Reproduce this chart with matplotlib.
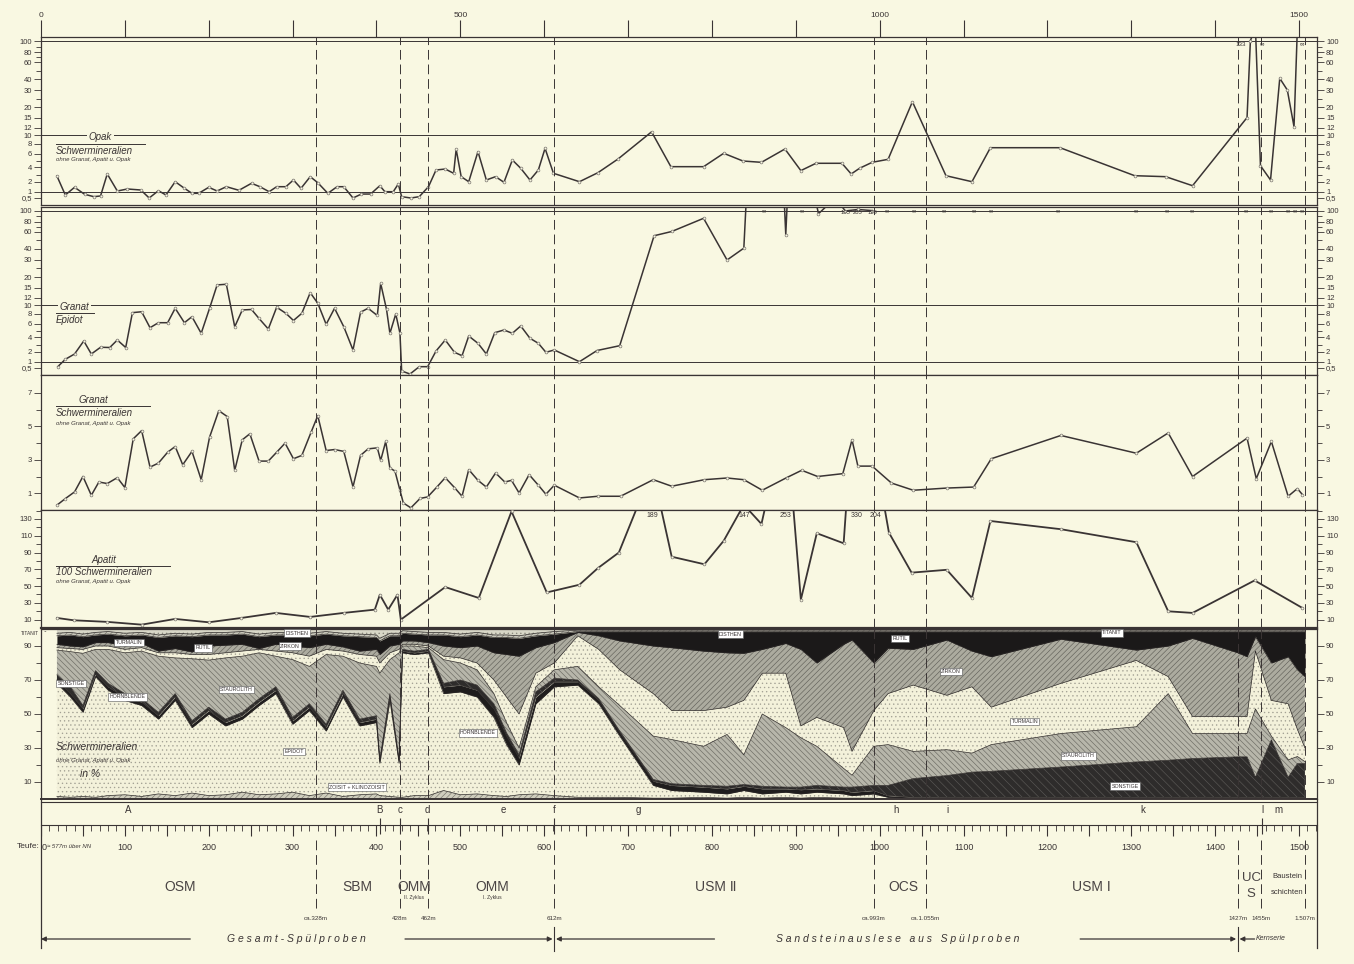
# -*- coding: utf-8 -*-
import numpy as np
import matplotlib
matplotlib.use('Agg')
import matplotlib.pyplot as plt
from matplotlib.transforms import blended_transform_factory

W, H = 1354, 964
BG = '#f9f8e2'
INK = '#3a3434'
INF = 1000.0          # unendlich / ausserhalb der Skala

plt.rcParams['font.family'] = ['Liberation Sans', 'DejaVu Sans']
plt.rcParams['hatch.linewidth'] = 0.45

PX_PER_M = 0.8387
X_MAX = (1317 - 41) / PX_PER_M

# ---------------- Daten ----------------
grenzen = [328, 428, 462, 612, 993, 1055, 1427, 1455, 1507]
grenzen_txt = ['ca.328m', '428m', '462m', '612m', 'ca.993m', 'ca.1.055m', '1427m', '1455m', '1.507m']

top_ticks = list(range(0, 1501, 100))
top_labels = ['0', '', '', '', '', '500', '', '', '', '', '1000', '', '', '', '', '1500']

# Opak / Schwermineralien
opak_m = [19, 29, 40, 52, 63, 71, 79, 91, 103, 119,
          129, 140, 149, 160, 171, 180, 188, 200, 210, 221,
          236, 251, 261, 272, 281, 292, 301, 310, 321, 330,
          342, 353, 361, 372, 382, 393, 404, 410, 420, 426,
          430, 441, 451, 462, 471, 482, 492, 495, 501, 510,
          521, 531, 542, 552, 562, 572, 583, 593, 601, 611,
          642, 664, 688, 728, 751, 790, 814, 837, 859, 887,
          906, 924, 955, 966, 976, 991, 1010, 1039, 1079, 1110,
          1132, 1215, 1304, 1341, 1373, 1438, 1442, 1448, 1454, 1466,
          1477, 1486, 1494, 1498]
opak = [2.8, 0.75, 1.47, 0.81, 0.61, 0.67, 3.07, 1.1, 1.3, 1.2,
        0.5, 1.13, 0.75, 2.04, 1.37, 0.89, 0.89, 1.47, 1.1, 1.53,
        1.17, 1.87, 1.53, 1.03, 1.53, 1.53, 2.27, 1.37, 2.71, 1.93,
        0.89, 1.53, 1.53, 0.5, 0.83, 0.83, 1.63, 1.03, 1.03, 1.8,
        0.61, 0.5, 0.61, 1.53, 3.6, 3.73, 3.16, 6.94, 2.71, 2.04,
        6.47, 2.27, 2.71, 1.97, 5.08, 3.83, 2.27, 3.6, 7.13, 3.16,
        2.04, 3.24, 5.23, 10.9, 4.05, 4.05, 6.14, 4.92, 4.72, 7.0,
        3.52, 4.57, 4.57, 3.07, 3.83, 4.72, 5.18, 23.1, 2.84, 2.04,
        7.26, 7.26, 2.84, 2.71, 1.63, 15.2, 133, INF, 4.2, 2.27,
        40.8, 30, 12.4, INF]
opak_notes = [('133', 1431), ('∞', 1456), ('∞', 1504)]

# Granat / Epidot
gep_m = [20, 29, 40, 51, 60, 71, 82, 91, 101, 109,
         120, 130, 140, 151, 160, 171, 180, 191, 201, 210,
         221, 231, 240, 251, 260, 271, 281, 292, 301, 311,
         321, 330, 340, 350, 361, 372, 381, 390, 401, 405,
         412, 416, 423, 428, 430, 440, 451, 461, 471, 482,
         493, 502, 510, 521, 531, 541, 552, 562, 572, 583,
         593, 602, 612, 642, 663, 690, 731, 752, 790, 818,
         838, 841, 886, 888, 890, 923, 927, 947, 959, 974,
         991]
gep = [0.61, 1.27, 1.8, 3.47, 1.8, 2.63, 2.6, 3.6, 2.6, 8.3,
       8.5, 5.43, 6.26, 6.26, 9.27, 6.26, 7.46, 4.57, 9.27, 16.4,
       16.7, 5.58, 8.9, 9.0, 7.1, 5.23, 9.5, 8.15, 6.7, 8.15,
       13.6, 10.5, 5.95, 9.27, 5.58, 2.27, 8.4, 9.27, 7.7, 17.1,
       9.0, 4.57, 8.0, 4.57, 0.4, 0.3, 0.61, 0.61, 2.13, 3.6,
       1.97, 1.63, 4.15, 3.16, 1.8, 4.66, 5.08, 4.57, 5.7, 3.83,
       3.16, 1.97, 2.27, 1.03, 2.2, 2.84, 55.6, 61, 86.7, 30,
       41, INF, INF, 57, INF, INF, 95, INF, 105, 205,
       129]
gep_inf_m = [862, 907, 1008, 1041, 1077, 1112, 1133, 1213, 1305, 1343,
             1372, 1437, 1466, 1487, 1495, 1503]
gep_notes = [('105', 959), ('205', 974), ('129', 991)]

# Granat / Schwermineralien
gs_m = [19, 29, 40, 50, 60, 69, 79, 91, 100, 110,
        120, 130, 140, 151, 160, 169, 180, 191, 201, 212,
        222, 231, 240, 249, 260, 271, 281, 291, 301, 311,
        322, 330, 340, 350, 361, 372, 381, 390, 401, 405,
        411, 416, 422, 428, 432, 441, 452, 461, 472, 482,
        493, 502, 510, 521, 531, 542, 553, 561, 570, 582,
        593, 602, 612, 642, 664, 691, 730, 752, 791, 818,
        838, 860, 889, 907, 926, 956, 967, 974, 991, 1014,
        1040, 1080, 1112, 1133, 1216, 1306, 1344, 1373, 1438, 1449,
        1467, 1487, 1498, 1504]
gs = [0.29, 0.68, 1.08, 2.0, 0.88, 1.67, 1.58, 1.93, 1.34, 4.25,
      4.74, 2.56, 2.8, 3.45, 3.79, 2.7, 3.5, 1.81, 4.35, 5.93,
      5.58, 2.37, 4.19, 4.55, 2.92, 2.92, 3.45, 3.99, 3.06, 3.26,
      4.64, 5.63, 3.55, 3.61, 3.5, 1.38, 3.26, 3.65, 3.71, 2.96,
      4.09, 2.5, 2.33, 1.18, 0.42, 0.13, 0.69, 0.78, 1.37, 1.93,
      1.34, 0.82, 2.41, 1.77, 1.37, 2.21, 1.67, 1.77, 1.02, 2.11,
      1.48, 0.94, 1.48, 0.72, 0.82, 0.82, 1.81, 1.42, 1.81, 1.91,
      1.81, 1.18, 1.93, 2.37, 2.0, 2.17, 4.19, 2.62, 2.62, 1.61,
      1.18, 1.31, 1.37, 3.06, 4.45, 3.39, 4.6, 2.0, 4.29, 1.87,
      4.09, 0.82, 1.28, 0.92]

# Apatit / 100 Schwermineralien
ap_m = [19, 39, 79, 120, 160, 200, 239, 280, 321, 361,
        398, 404, 414, 425, 429, 482, 522, 561, 603, 642,
        664, 689, 729, 752, 791, 814, 838, 859, 888, 906,
        925, 957, 973, 995, 1011, 1038, 1080, 1110, 1132, 1216,
        1306, 1344, 1373, 1447, 1504]
ap = [12, 9.2, 7.3, 4, 10.8, 6.8, 12, 18, 13.2, 18,
      21.9, 39.7, 21.9, 39.7, 10, 48.8, 35.8, 139, 42.4, 51.6,
      71.4, 90, 189, 85, 76, 104, 147, 124, 253, 33.8,
      113, 101, 330, 204, 113.7, 66, 69.4, 35.8, 127.6, 117.8,
      102.3, 19.9, 18, 56.7, 23.9]
ap_notes = [('189', 729), ('147', 838), ('253', 888), ('330', 973), ('204', 995)]

# Schwermineralien in %: kumulierte Obergrenzen je Mineral
sm_m = ([19, 35, 50, 65, 80, 100, 120, 140, 160, 180,
         200, 220, 240, 260, 280, 300, 320, 340, 360, 380,
         400, 404, 416, 427, 431, 445, 462, 480, 500, 520,
         540, 555, 570, 590, 612] +
        [640, 665, 690, 730, 752, 790, 818, 838, 860, 888,
         906, 925, 957, 967, 993, 1010, 1040, 1080, 1110, 1133,
         1216, 1306, 1344, 1373, 1427, 1438, 1448, 1467, 1487, 1498,
         1507])
ob_zoisit = ([1.5, 1, 1.5, 1, 2, 2.5, 1.5, 3, 2, 3.5,
              2, 2.5, 4, 2.5, 3, 4, 2, 3.5, 1.5, 2.5,
              3, 2, 1.5, 1, 1, 2, 2, 5, 2.5, 3,
              2, 1.5, 2.5, 3, 2] +
             [1, 1, 1, 0.5, 0.5, 1, 0.5, 1, 0.5, 1,
              0.5, 1, 0.5, 0.5, 0.5, 0, 0, 0, 0, 0,
              0, 0, 0, 0, 0, 0, 0, 0, 0, 0,
              0])
ob_epidot = ([68, 60, 51, 72, 64, 58, 55, 47, 58, 42,
              50, 43, 47, 55, 62, 44, 52, 40, 60, 43,
              45, 21, 58, 21, 86, 85, 86, 62, 63, 60,
              48, 32, 20, 56, 66] +
             [67, 56, 37, 8, 5, 4, 3, 5, 3, 4,
              3, 4, 3, 2, 3, 1, 0.5, 0.3, 0.3, 0.3,
              0.3, 0.3, 0.3, 0.3, 0.3, 0.3, 0.3, 0.3, 0.3, 0.3,
              0.3])
ob_hornbl = ([70, 62, 53, 73.5, 66, 60, 57, 49, 60, 44,
              52, 45, 49, 57, 64, 46, 54, 42, 62, 45,
              47, 22, 60, 22, 87, 86, 87, 66, 67, 64,
              53, 37, 24, 60, 69] +
             [69, 58, 39, 10.5, 8, 7, 6, 7.5, 6, 6,
              5.5, 6, 5, 4, 5, 2, 1, 0.8, 0.8, 0.8,
              0.8, 0.8, 0.8, 0.8, 0.8, 0.8, 0.8, 0.8, 0.8, 0.8,
              0.8])
ob_sonst = ([73, 66, 55, 75.5, 68, 62, 59, 51, 62, 46,
             54, 47, 51, 59, 66, 48, 56, 44, 64, 47,
             49, 23, 62, 23, 88, 87, 88, 68, 70, 67,
             56, 39, 26, 63, 71] +
            [70, 59, 40, 11.5, 9, 8, 7.5, 8.5, 7.5, 7,
             7, 8, 7, 7, 8, 8, 12, 13.8, 15.8, 16.3,
             18.8, 21.8, 22.8, 23.8, 24.8, 24.8, 12.8, 34.8, 12.8, 20.8,
             20.8])
ob_staur = ([87.6, 86.7, 85.7, 88, 88, 86, 87, 84, 83, 82.5,
             81.7, 83, 84, 86, 84, 82, 78, 85, 84, 80,
             78, 74, 82, 86, 90, 90, 89, 82, 80, 76,
             62, 45, 30, 66, 76] +
            [78, 66, 55, 37, 35, 31, 38, 26, 50, 42,
             36, 31, 18, 14, 31, 32, 28, 29, 27, 32,
             38.5, 42.5, 62, 38.5, 38.5, 38.5, 53, 37, 23, 25,
             22])
ob_turm = ([89, 88.5, 88, 90, 90, 88, 89, 86, 86, 85,
            85, 86, 87, 88, 87, 86, 84, 88, 87, 85,
            84, 80, 86, 88, 91, 91, 90, 84, 83, 80,
            70, 60, 50, 74, 80] +
           [96, 88, 76, 62, 52, 52, 54, 58, 74, 74,
            43, 48, 42, 28, 52, 62, 67, 61, 66, 54,
            68, 81.5, 72, 48.5, 48.5, 48.5, 87, 58, 56, 41,
            30])
ob_zirk = ([91, 90, 89.5, 92, 92, 90, 91.5, 87, 88.5, 86.5,
            90, 90.5, 91, 88.5, 91, 90, 89, 91, 89.5, 87,
            88, 85, 90, 91, 93, 93, 92, 90, 89, 90,
            86, 85, 84, 89, 92] +
           [98, 96, 93, 90, 89, 87, 86, 85.7, 88, 91.5,
            88, 80, 91, 93.5, 80, 88.7, 88, 93.5, 87, 83.7,
            94, 87.6, 90, 94.5, 86, 83.7, 95.5, 80, 83.7, 76,
            72])
ob_rutil = ([96, 96.5, 95.5, 96.5, 97, 96, 96.5, 95, 96, 95.5,
             96.5, 96.5, 97, 95.5, 96.5, 96.5, 96, 97, 96, 95.5,
             95, 93, 96, 96, 97.5, 97, 96.5, 96.5, 95.5, 96.5,
             95, 95, 94.5, 96, 97] + [98.5] * 31)
ob_disth = ([97.5, 98, 97, 98, 98.5, 97.5, 98, 96.5, 97.5, 97,
             98, 98, 98.5, 97, 98, 98, 97.5, 98.5, 97.5, 97,
             96.5, 94.5, 97.5, 97.5, 99, 98.5, 98, 98, 97, 98,
             96.5, 96.5, 96, 97.5, 98.5] + [99.3] * 31)
ob_titan = [100] * len(sm_m)

sm_labels = [('SONSTIGE', 36, 68), ('HORNBLENDE', 103, 60), ('TURMALIN', 105, 92),
             ('RUTIL', 193, 89), ('DISTHEN', 305, 97.6), ('ZIRKON', 297, 90),
             ('STAUROLITH', 233, 64.5), ('EPIDOT', 302, 28),
             ('ZOISIT + KLINOZOISIT', 377, 7), ('HORNBLENDE', 521, 39),
             ('DISTHEN', 822, 97), ('RUTIL', 1024, 94.5), ('ZIRKON', 1085, 75),
             ('TITANIT', 1277, 97.8), ('TURMALIN', 1173, 45.5),
             ('STAUROLITH', 1237, 25.3), ('SONSTIGE', 1293, 7.6)]

zonen = ['A', 'B', 'c', 'd', 'e', 'f', 'g', 'h', 'i', 'k', 'l', 'm']
zonen_m = [104, 404, 428, 461, 551, 612, 712, 1019, 1081, 1314, 1456, 1476]
zonen_marken = [404, 428, 462, 612, 1456]
stufen = [('OSM', 166), ('SBM', 377), ('OMM', 445), ('OMM', 538),
          ('USM Ⅱ', 805), ('OCS', 1028), ('USM Ⅰ', 1252)]
teufe_labels = list(range(100, 1501, 100))


# ---------------- Hilfen ----------------
def px_box(top, bottom, left=41, right=1317):
    return [left / W, 1 - bottom / H, (right - left) / W, (bottom - top) / H]


skala_w = [0.1, 0.5, 1, 2, 4, 6, 8, 10, 12, 15, 20, 30, 40, 60, 80, 100, 1000]
skala_p = [-12, 0, 6, 16, 31, 44, 54, 63, 70, 80, 91, 108, 119, 136, 146, 157, 170]


def fwd(v):
    return np.interp(v, skala_w, skala_p)


def inv(p):
    return np.interp(p, skala_p, skala_w)


def panel(ax, major, labels, minor):
    ax.set_facecolor(BG)
    ax.set_xlim(0, X_MAX)
    ax.set_yticks(major)
    ax.set_yticklabels(labels)
    ax.set_yticks(minor, minor=True)
    ax.tick_params(axis='y', which='both', direction='out', left=True, right=True,
                   labelleft=True, labelright=True, labelsize=5.5, colors=INK,
                   width=0.6, pad=1.5)
    ax.tick_params(axis='y', which='major', length=5)
    ax.tick_params(axis='y', which='minor', length=3.5)
    ax.set_xticks([])
    for s in ax.spines.values():
        s.set_color(INK)
        s.set_linewidth(0.9)
    for b in grenzen:
        ax.axvline(b, color=INK, lw=0.7, ls=(0, (10, 5)), zorder=5)


def kurve(ax, m, v, lw=1.1):
    ax.plot(m, v, color=INK, lw=lw, marker='o', ms=2.0, mfc=BG, mec='#7d7872',
            mew=0.5, zorder=4)


def titel(ax, oben, unten, klein, y_oben, y_bar, y_unten, y_klein, bar_end, oben_x):
    tr = blended_transform_factory(ax.transData, ax.transAxes)
    ax.text(oben_x, y_oben, oben, transform=tr, ha='center', va='center', fontsize=7,
            style='italic', color=INK, zorder=6,
            bbox=dict(boxstyle='square,pad=0.15', fc=BG, ec='none'))
    ax.plot([18, bar_end], [y_bar, y_bar], transform=tr, color=INK, lw=0.7, zorder=6)
    ax.text(18, y_unten, unten, transform=tr, ha='left', va='center', fontsize=7,
            style='italic', color=INK, zorder=6)
    if klein:
        ax.text(18, y_klein, klein, transform=tr, ha='left', va='center', fontsize=4.3,
                style='italic', color=INK, zorder=6)


def notizen(ax, items, y, size=4.8):
    tr = blended_transform_factory(ax.transData, ax.transAxes)
    for txt, m in items:
        ax.text(m, y, txt, transform=tr, ha='center', va='center', fontsize=size,
                color=INK, zorder=6)


# ---------------- Figur ----------------
fig = plt.figure(figsize=(W / 100, H / 100), dpi=100, facecolor=BG)

log_major = [100, 80, 60, 40, 30, 20, 15, 12, 10, 8, 6, 4, 2, 1, 0.5]
log_labels = ['100', '80', '60', '40', '30', '20', '15', '12', '10', '8', '6', '4', '2', '1', '0,5']
log_minor = [90, 70, 50, 25, 5, 3]

# Opak
ax1 = fig.add_axes(px_box(37, 205))
ax1.set_yscale('function', functions=(fwd, inv))
panel(ax1, log_major, log_labels, log_minor)
ax1.set_ylim(inv(-7), inv(161))
ax1.set_xticks(top_ticks)
ax1.set_xticklabels(top_labels)
ax1.xaxis.set_ticks_position('top')
ax1.tick_params(axis='x', which='major', direction='out', length=12, width=0.8,
                labelsize=6, pad=1, colors=INK)
for v in (100, 10, 1):
    ax1.axhline(v, color=INK, lw=0.7, zorder=2)
kurve(ax1, opak_m, opak)
titel(ax1, 'Opak', 'Schwermineralien', 'ohne Granat, Apatit u. Opak',
      0.405, 0.363, 0.321, 0.268, 124, 71)
notizen(ax1, opak_notes, 0.955, 4.5)

# Granat / Epidot
ax2 = fig.add_axes(px_box(207, 375))
ax2.set_yscale('function', functions=(fwd, inv))
panel(ax2, log_major, log_labels, log_minor)
ax2.set_ylim(inv(-7), inv(161))
for v in (100, 10, 1):
    ax2.axhline(v, color=INK, lw=0.7, zorder=2)
kurve(ax2, gep_m, gep)
titel(ax2, 'Granat', 'Epidot', None, 0.407, 0.369, 0.327, 0, 63, 40)
notizen(ax2, [('∞', m) for m in gep_inf_m], 0.968, 4.2)
notizen(ax2, gep_notes, 0.968, 4.2)

# Granat / Schwermineralien
ax3 = fig.add_axes(px_box(375, 510))
panel(ax3, [1, 3, 5, 7], ['1', '3', '5', '7'], [2, 4, 6])
ax3.set_ylim(0, 8.06)
kurve(ax3, gs_m, gs)
titel(ax3, 'Granat', 'Schwermineralien', 'ohne Granat, Apatit u. Opak',
      0.815, 0.770, 0.719, 0.644, 130, 63)

# Apatit / 100 Schwermineralien
ax4 = fig.add_axes(px_box(510, 628))
panel(ax4, list(range(10, 131, 20)), [str(v) for v in range(10, 131, 20)],
      list(range(20, 141, 20)))
ax4.set_ylim(0, 140.7)
kurve(ax4, ap_m, ap, lw=1.3)
titel(ax4, 'Apatit', '100 Schwermineralien', 'ohne Granat, Apatit u. Opak',
      0.576, 0.525, 0.475, 0.39, 154, 75)
notizen(ax4, ap_notes, 0.95, 5)
for s in ('bottom',):
    ax4.spines[s].set_linewidth(1.6)

# Schwermineralien in %
ax5 = fig.add_axes(px_box(629, 799))
panel(ax5, [10, 30, 50, 70, 90], ['10', '30', '50', '70', '90'], [20, 40, 60, 80])
ax5.set_ylim(0, 100)
ax5.spines['bottom'].set_linewidth(1.4)
schichten = [
    (ob_zoisit, '#cfcdbd', '//////', '#77756c'),
    (ob_epidot, '#f3f1da', '....', '#a3a194'),
    (ob_hornbl, '#1f1d1d', None, '#1f1d1d'),
    (ob_sonst, '#2e2c2b', '\\\\\\\\', '#5a5855'),
    (ob_staur, '#b7b6aa', '\\\\\\\\\\\\', '#6b6a62'),
    (ob_turm, '#f3f1da', '....', '#a3a194'),
    (ob_zirk, '#acab9f', '//////', '#62615a'),
    (ob_rutil, '#1b1919', None, '#1b1919'),
    (ob_disth, '#c8c7ba', '//////', '#77756c'),
    (ob_titan, '#d8d7c7', '....', '#8a887c'),
]
unten = np.zeros(len(sm_m))
for oben, fc, hatch, hc in schichten:
    oben = np.asarray(oben, float)
    ax5.fill_between(sm_m, unten, oben, facecolor=fc, edgecolor=hc, hatch=hatch,
                     linewidth=0, zorder=1)
    ax5.plot(sm_m, oben, color='#2a2626', lw=0.5, zorder=2)
    unten = oben
for txt, m, p in sm_labels:
    ax5.text(m, p, txt, ha='center', va='center', fontsize=3.8, color=INK, zorder=7,
             bbox=dict(boxstyle='square,pad=0.25', fc='white', ec='#555', lw=0.4))
ax5.annotate('TITANIT', xy=(6, 98.5), xytext=(-13, 97.6), fontsize=3.5, color=INK,
             ha='center', va='center', annotation_clip=False,
             arrowprops=dict(arrowstyle='-', lw=0.4, color=INK))
ax5.text(18, 30.6, 'Schwermineralien', ha='left', va='center', fontsize=7.5,
         style='italic', color=INK, zorder=7)
ax5.text(18, 22.4, 'ohne Granat, Apatit u. Opak', ha='left', va='center', fontsize=4.3,
         style='italic', color=INK, zorder=7)
ax5.text(58, 14.7, 'in %', ha='center', va='center', fontsize=7.5,
         style='italic', color=INK, zorder=7)

# ---------------- Teufenleiste ----------------
axb = fig.add_axes(px_box(799, 964))
axb.set_xlim(0, X_MAX)
axb.set_ylim(964, 799)
axb.axis('off')
axb.plot([0, X_MAX], [802, 802], color=INK, lw=0.8, clip_on=False)
for x in (0, X_MAX):
    axb.plot([x, x], [799, 948], color=INK, lw=0.9, clip_on=False)
axb.plot([0, X_MAX], [825, 825], color=INK, lw=0.8, clip_on=False)
ruler = np.arange(0, 1521, 10)
lang = ruler[ruler % 50 == 0]
axb.vlines(ruler, 825, 831, color=INK, lw=0.6)
axb.vlines(lang, 825, 836, color=INK, lw=0.8)
for t in teufe_labels:
    axb.text(t, 847, str(t), ha='center', va='center', fontsize=6.5, color=INK)
axb.text(-1, 847, 'Teufe:', ha='right', va='center', fontsize=6, color=INK)
axb.text(0.5, 847, '0', ha='left', va='center', fontsize=6.5, color=INK)
axb.text(7, 847, '≈ 577m über NN', ha='left', va='center', fontsize=4.3,
         style='italic', color=INK)
for z, m in zip(zonen, zonen_m):
    axb.text(m, 810, z, ha='center', va='center', fontsize=7, color=INK)
axb.vlines(zonen_marken, 818, 834, color=INK, lw=0.8)
for b, txt in zip(grenzen, grenzen_txt):
    axb.plot([b, b], [840, 912], color=INK, lw=0.7, ls=(0, (10, 5)))
    axb.text(b, 919, txt, ha='center', va='center', fontsize=4.5, color=INK)
for b in (612, 1427):
    axb.plot([b, b], [927, 951], color=INK, lw=0.8)
for name, m in stufen:
    axb.text(m, 887, name, ha='center', va='center', fontsize=10, color='#4a4444')
axb.text(445, 898, 'II. Zyklus', ha='center', va='center', fontsize=3.6, color=INK)
axb.text(538, 898, 'I. Zyklus', ha='center', va='center', fontsize=3.6, color=INK)
axb.text(1443, 878, 'UC', ha='center', va='center', fontsize=9.5, color='#4a4444')
axb.text(1443, 894, 'S', ha='center', va='center', fontsize=9.5, color='#4a4444')
axb.text(1486, 877, 'Baustein', ha='center', va='center', fontsize=5.5, color=INK)
axb.text(1486, 892, 'schichten', ha='center', va='center', fontsize=5.5, color=INK)

pfeil = dict(arrowstyle='-|>', lw=0.9, color=INK, mutation_scale=7, shrinkA=0, shrinkB=0)
axb.annotate('', xy=(0, 939), xytext=(178, 939), arrowprops=pfeil)
axb.annotate('', xy=(610, 939), xytext=(434, 939), arrowprops=pfeil)
axb.text(305, 939, 'G e s a m t - S p ü l p r o b e n', ha='center', va='center',
         fontsize=7.5, style='italic', color=INK)
axb.annotate('', xy=(614, 939), xytext=(803, 939), arrowprops=pfeil)
axb.annotate('', xy=(1425, 939), xytext=(1239, 939), arrowprops=pfeil)
axb.text(1021, 939, 'S a n d s t e i n a u s l e s e   a u s   S p ü l p r o b e n',
         ha='center', va='center', fontsize=7.5, style='italic', color=INK)
axb.annotate('', xy=(1429, 939), xytext=(1447, 939), arrowprops=pfeil)
axb.text(1448, 939, 'Kernserie', ha='left', va='center', fontsize=5,
         style='italic', color=INK)

fig.savefig('out.png', dpi=100, facecolor=BG)
